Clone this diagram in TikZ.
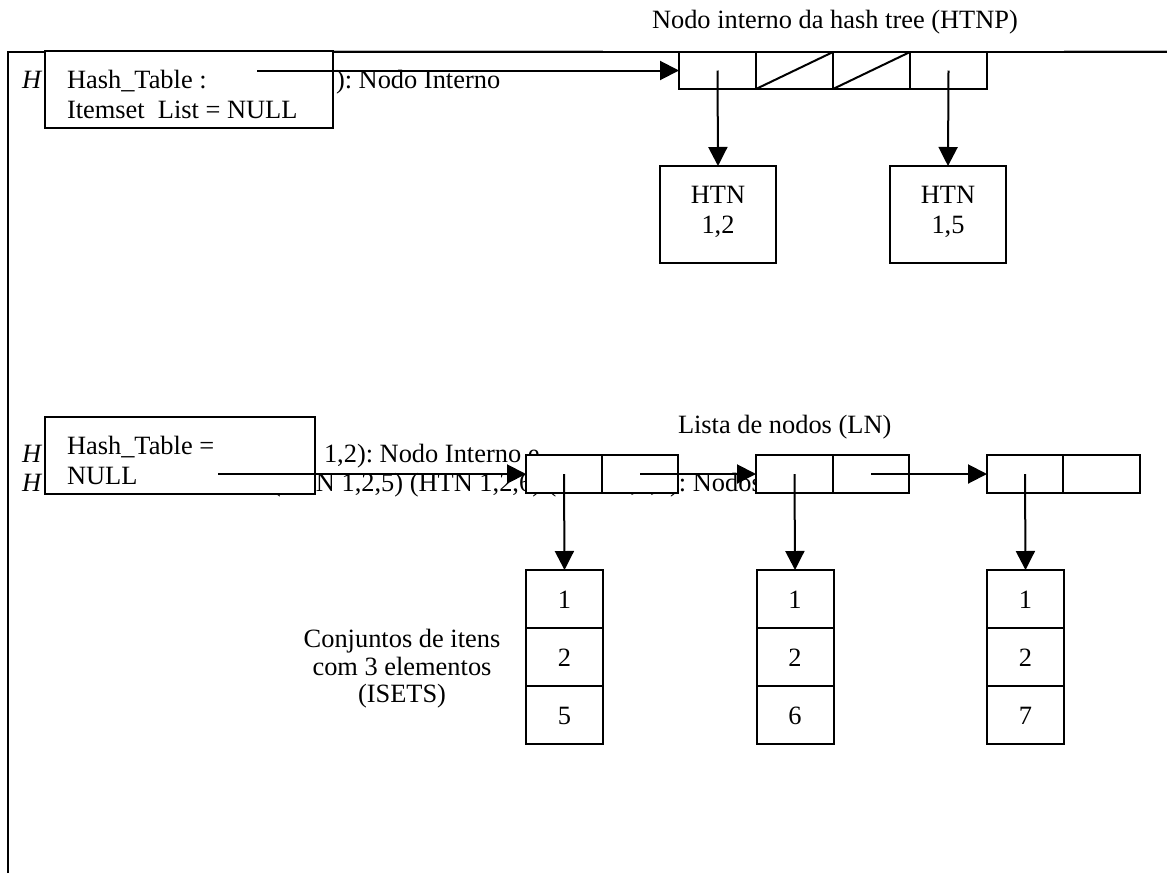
\documentclass[tikz,border=0pt]{standalone}
\usepackage{fontspec}
\setmainfont{Liberation Serif}
\frenchspacing
\usetikzlibrary{arrows.meta}
\tikzset{
  txt/.style={inner sep=0pt, outer sep=0pt, anchor=base west, font=\fontsize{13.2pt}{15pt}\selectfont},
  ctxt/.style={txt, anchor=base},
  cell/.style={draw, fill=white, line width=1pt, inner sep=0pt, outer sep=0pt},
  arr/.style={line width=1pt, -{Triangle[length=9.5pt,width=9.5pt]}},
  line/.style={line width=1pt},
}
\begin{document}
\begin{tikzpicture}[x=0.5pt, y=-0.5pt]
\useasboundingbox (0,0) rectangle (1167,873);

% outer frame
\draw[line] (8,873) -- (8,52) -- (1167,52);
\draw[gray!55, line width=0.6pt] (333,50.5) -- (603,50.5) (1064,50.5) -- (1167,50.5);

% titles
\node[txt] (title) at (652,28) {Nodo interno da hash tree (HTNP)};
\node[txt] (lntitle) at (678,433) {Lista de nodos (LN)};

% text lines partly covered by the boxes
\node[txt] (h1) at (22,88) {\textit{H}};
\node[txt] (int1) at (336,88) {): Nodo Interno};
\node[txt] (h2) at (22,462) {\textit{H}};
\node[txt] (int2) at (324,462) {1,2): Nodo Interno e};
\node[txt] (h3) at (22,491) {\textit{H}};
\node[txt] (leaf) at (272,491) {(HTN 1,2,5) (HTN 1,2,6) (HTN 1,2,7): Nodos};

% hash table boxes
\node[cell, minimum width=144pt, minimum height=38.5pt] (hta) at (189,89.5) {};
\node[txt] (hta1) at (67,88) {Hash\_Table :};
\node[txt] (hta2) at (67,118) {Itemset~~List = NULL};
\node[cell, minimum width=135pt, minimum height=38.5pt] (htb) at (180,455.5) {};
\node[txt] (htb1) at (67,454) {Hash\_Table =};
\node[txt] (htb2) at (67,484) {NULL};

% internal node (HTNP) with four slots
\foreach \i/\x in {1/717.5, 2/794.5, 3/871.5, 4/948.5}
  \node[cell, minimum width=38.5pt, minimum height=18.5pt] (hp\i) at (\x,70.5) {};
\draw[line] (hp2.south west) -- (hp2.north east);
\draw[line] (hp3.south west) -- (hp3.north east);

% child nodes HTN
\node[cell, minimum width=58pt, minimum height=48.5pt] (htn1) at (718,214.5) {};
\node[ctxt] (htn1a) at (718,203) {HTN};
\node[ctxt] (htn1b) at (718,233) {1,2};
\node[cell, minimum width=58pt, minimum height=48.5pt] (htn2) at (948,214.5) {};
\node[ctxt] (htn2a) at (948,203) {HTN};
\node[ctxt] (htn2b) at (948,233) {1,5};

% list of nodes (LN)
\node[cell, minimum width=38pt, minimum height=19pt] (l1a) at (564,474) {};
\node[cell, minimum width=38pt, minimum height=19pt] (l1b) at (640,474) {};
\node[cell, minimum width=38.5pt, minimum height=19pt] (l2a) at (794.5,474) {};
\node[cell, minimum width=38pt, minimum height=19pt] (l2b) at (871,474) {};
\node[cell, minimum width=38pt, minimum height=19pt] (l3a) at (1025,474) {};
\node[cell, minimum width=38.5pt, minimum height=19pt] (l3b) at (1101.5,474) {};

% itemsets with three elements
\foreach \c/\x/\a/\b/\d in {1/564.5/1/2/5, 2/795/1/2/6, 3/1025.5/1/2/7} {
  \node[cell, minimum width=38.5pt, minimum height=29pt] (is\c a) at (\x,599) {};
  \node[cell, minimum width=38.5pt, minimum height=29pt] (is\c b) at (\x,657) {};
  \node[cell, minimum width=38.5pt, minimum height=29pt] (is\c c) at (\x,715) {};
  \node[ctxt] at (\x,608) {\a};
  \node[ctxt] at (\x,666) {\b};
  \node[ctxt] at (\x,724) {\d};
}
\node[ctxt] (isl1) at (402,647) {Conjuntos de itens};
\node[ctxt] (isl2) at (402,675) {com 3 elementos};
\node[ctxt] (isl3) at (402,702) {(ISETS)};

% pointers
\coordinate (pa) at (257,70.5);
\coordinate (pb) at (218,474);
\draw[arr] (pa) -- (hp1.west);
\draw[arr] (hp1.center) -- (htn1.north);
\draw[arr] (hp4.center) -- (htn2.north);
\draw[arr] (pb) -- (l1a.west);
\draw[arr] (l1b.center) -- (l2a.west);
\draw[arr] (l2b.center) -- (l3a.west);
\draw[arr] (l1a.center) -- (is1a.north);
\draw[arr] (l2a.center) -- (is2a.north);
\draw[arr] (l3a.center) -- (is3a.north);
\end{tikzpicture}
\end{document}
